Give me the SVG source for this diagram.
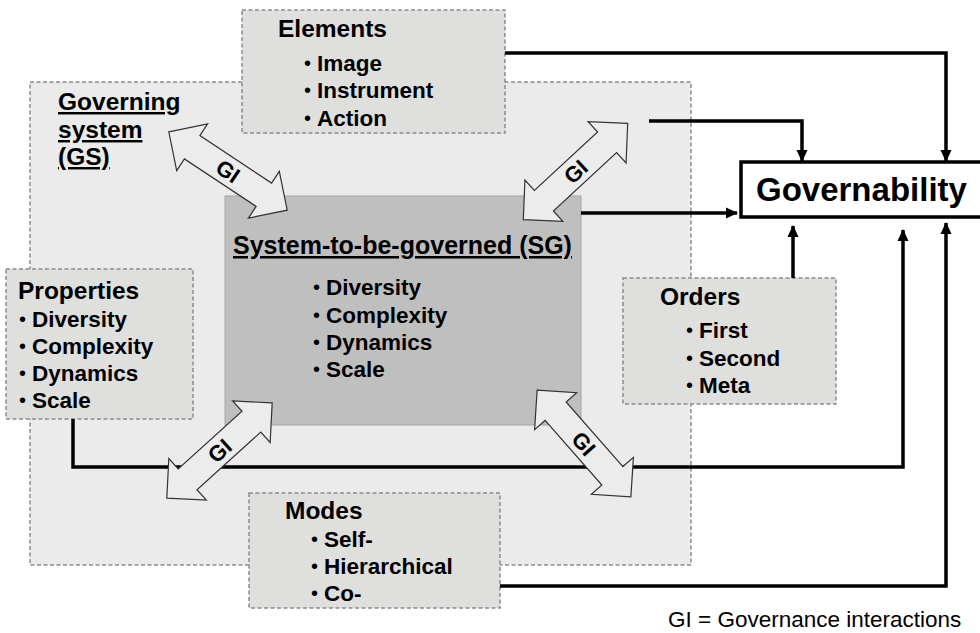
<svg xmlns="http://www.w3.org/2000/svg" width="980" height="633" viewBox="0 0 980 633">
<style>
.t{font-family:"Liberation Sans",Arial,sans-serif;font-weight:bold;fill:#000}
.title{font-size:24.5px}
.item{font-size:22.5px}
.b{font-weight:normal;font-size:20px}
.u{text-decoration:underline}
.box{fill:#dfdfde;stroke:#8c8c8c;stroke-width:1.5;stroke-dasharray:4 2.5}
.conn{fill:none;stroke:#000;stroke-width:3.5;stroke-linejoin:miter}
.gi{fill:#ececec;stroke:#333;stroke-width:1.2}
.gil{font-family:"Liberation Sans",Arial,sans-serif;font-weight:bold;font-size:22px;text-anchor:middle}
</style>
<defs>
<marker id="ah" markerUnits="userSpaceOnUse" markerWidth="12" markerHeight="12" viewBox="0 0 12 12" refX="11" refY="6" orient="auto">
<path d="M0,0.5 L12,6 L0,11.5 Z" fill="#000"/>
</marker>
<path id="dbl" d="M-71,0 L-43,-28 L-43,-14 L43,-14 L43,-28 L71,0 L43,28 L43,14 L-43,14 L-43,28 Z"/>
</defs>
<rect width="980" height="633" fill="#fff"/>
<g id="governing-system">
<rect x="30" y="82" width="661" height="483" fill="#ebebeb" stroke="#8c8c8c" stroke-width="1.5" stroke-dasharray="4 2.5"/>
<text class="t title u" x="58" y="110">Governing</text>
<text class="t title u" x="58" y="138">system</text>
<text class="t title u" x="58" y="165">(GS)</text>
</g>
<g id="elements">
<rect class="box" x="242" y="10" width="263" height="123"/>
<text class="t title" x="278" y="37">Elements</text>
<text class="t item"><tspan class="b" x="304" y="70">•</tspan><tspan x="317" y="71">Image</tspan></text>
<text class="t item"><tspan class="b" x="304" y="97">•</tspan><tspan x="317" y="98">Instrument</tspan></text>
<text class="t item"><tspan class="b" x="304" y="125">•</tspan><tspan x="317" y="126">Action</tspan></text>
</g>
<g id="system-to-be-governed">
<rect x="225" y="196" width="356" height="229" fill="#bfbfbf" stroke="#a6a6a6" stroke-width="1"/>
<text class="t u" x="233" y="254" style="font-size:25px">System-to-be-governed (SG)</text>
<text class="t item"><tspan class="b" x="313" y="294">•</tspan><tspan x="326" y="295">Diversity</tspan></text>
<text class="t item"><tspan class="b" x="313" y="322">•</tspan><tspan x="326" y="323">Complexity</tspan></text>
<text class="t item"><tspan class="b" x="313" y="349">•</tspan><tspan x="326" y="350">Dynamics</tspan></text>
<text class="t item"><tspan class="b" x="313" y="376">•</tspan><tspan x="326" y="377">Scale</tspan></text>
</g>
<g id="properties">
<rect class="box" x="6" y="269" width="187" height="150"/>
<text class="t title" x="18" y="299">Properties</text>
<text class="t item"><tspan class="b" x="19" y="326">•</tspan><tspan x="32" y="327">Diversity</tspan></text>
<text class="t item"><tspan class="b" x="19" y="353">•</tspan><tspan x="32" y="354">Complexity</tspan></text>
<text class="t item"><tspan class="b" x="19" y="380">•</tspan><tspan x="32" y="381">Dynamics</tspan></text>
<text class="t item"><tspan class="b" x="19" y="407">•</tspan><tspan x="32" y="408">Scale</tspan></text>
</g>
<g id="orders">
<rect class="box" x="623" y="278" width="213" height="126"/>
<text class="t title" x="660" y="305">Orders</text>
<text class="t item"><tspan class="b" x="686" y="337">•</tspan><tspan x="699" y="338">First</tspan></text>
<text class="t item"><tspan class="b" x="686" y="365">•</tspan><tspan x="699" y="366">Second</tspan></text>
<text class="t item"><tspan class="b" x="686" y="392">•</tspan><tspan x="699" y="393">Meta</tspan></text>
</g>
<g id="modes">
<rect class="box" x="249" y="493" width="251" height="115"/>
<text class="t title" x="285" y="519">Modes</text>
<text class="t item"><tspan class="b" x="311" y="546">•</tspan><tspan x="324" y="547">Self-</tspan></text>
<text class="t item"><tspan class="b" x="311" y="573">•</tspan><tspan x="324" y="574">Hierarchical</tspan></text>
<text class="t item"><tspan class="b" x="311" y="600">•</tspan><tspan x="324" y="601">Co-</tspan></text>
</g>
<g id="governability">
<rect x="741" y="162" width="260" height="55" fill="#fff" stroke="#000" stroke-width="3.5"/>
<text class="t" x="756" y="201" style="font-size:33px">Governability</text>
</g>
<g id="connectors">
<path class="conn" d="M505,53 H946 V161" marker-end="url(#ah)"/>
<path class="conn" d="M649,121 H802 V161" marker-end="url(#ah)"/>
<path class="conn" d="M581,213 H737" marker-end="url(#ah)"/>
<path class="conn" d="M793,278 V226" marker-end="url(#ah)"/>
<path class="conn" d="M73,419 V467 H903 V230" marker-end="url(#ah)"/>
<path class="conn" d="M500,586 H946 V223" marker-end="url(#ah)"/>
</g>
<g id="gi-arrows">
<g transform="translate(228,171) rotate(33.5)"><use href="#dbl" class="gi"/><text class="gil" y="8">GI</text></g>
<g transform="translate(575.5,171.5) rotate(-42.7)"><use href="#dbl" class="gi"/><text class="gil" y="8">GI</text></g>
<g transform="translate(219.5,450.5) rotate(-42.1)"><use href="#dbl" class="gi"/><text class="gil" y="8">GI</text></g>
<g transform="translate(584,443.5) rotate(48.7)"><use href="#dbl" class="gi"/><text class="gil" y="8">GI</text></g>
</g>
<text id="legend" x="668" y="627" style="font-family:'Liberation Sans',Arial,sans-serif;font-size:22.5px">GI = Governance interactions</text>
</svg>
